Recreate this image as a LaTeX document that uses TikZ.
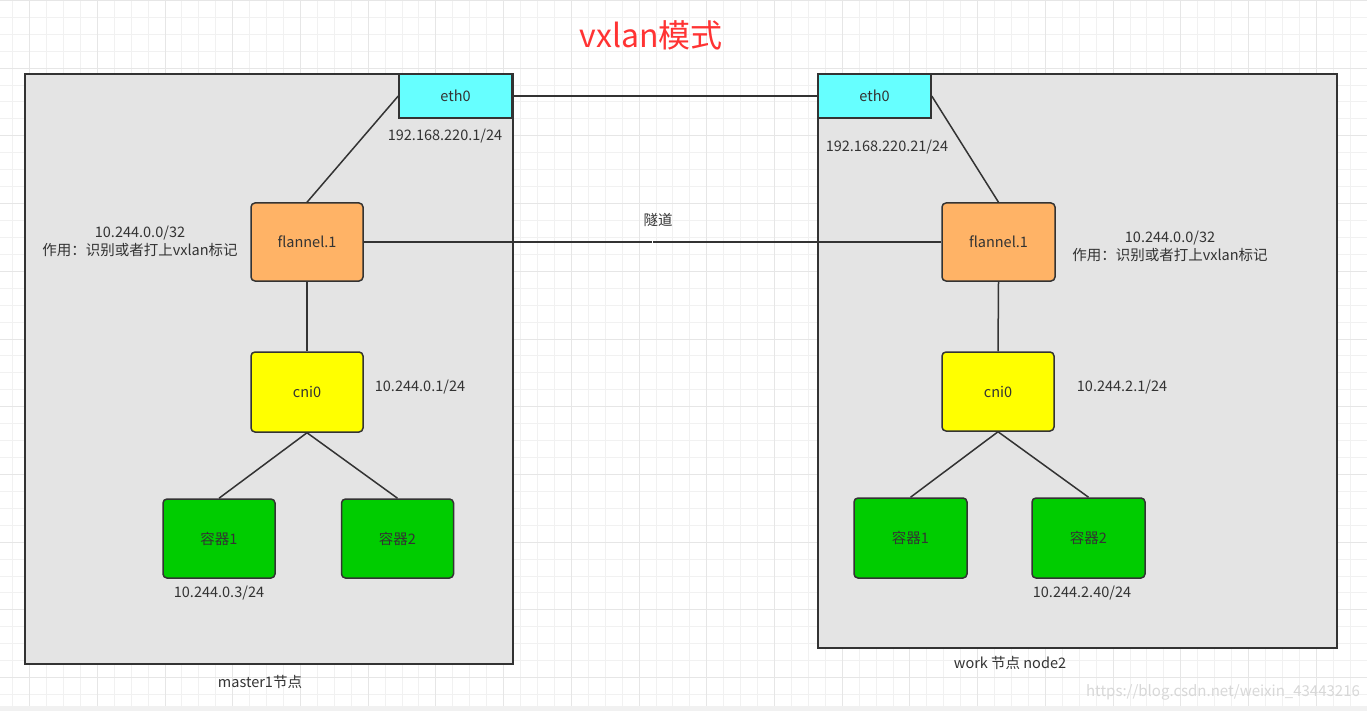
\documentclass[tikz,border=0pt]{standalone}
\usepackage{fontspec}
\usetikzlibrary{calc}
\newfontfamily\cjk{Noto Sans CJK SC}
\definecolor{gridminor}{HTML}{F1F1F1}
\definecolor{gridmajor}{HTML}{E6E6E6}
\definecolor{boxfill}{HTML}{E4E4E4}
\definecolor{strokec}{HTML}{333333}
\definecolor{ethc}{HTML}{66FFFF}
\definecolor{flanc}{HTML}{FFB366}
\definecolor{cnic}{HTML}{FFFF00}
\definecolor{conc}{HTML}{00CC00}
\definecolor{titlec}{HTML}{FF3333}
\definecolor{txtc}{HTML}{333333}
\definecolor{wmc}{HTML}{D8D8D8}
\begin{document}
\begin{tikzpicture}[x=1pt,y=-1pt,
  hostbox/.style={draw=strokec,line width=1.6pt,fill=boxfill,inner sep=0pt},
  dev/.style={draw=strokec,line width=1.5pt,inner sep=0pt,text=txtc,font=\cjk\fontsize{14.5}{17}\selectfont},
  rdev/.style={dev,rounded corners=4pt},
  conn/.style={draw=strokec,line width=1.5pt},
  lbl/.style={text=txtc,font=\cjk\fontsize{14.5}{18}\selectfont,inner sep=0pt,align=center}]
\useasboundingbox (0,0) rectangle (1367,711);
\fill[white] (0,0) rectangle (1367,711);
\foreach \i in {0,...,81} {
  \draw[gridminor,line width=1pt] ({12.67+16.93*\i},0) -- ({12.67+16.93*\i},711);
}
\foreach \i in {0,...,42} {
  \draw[gridminor,line width=1pt] (0,{0.4+16.93*\i}) -- (1367,{0.4+16.93*\i});
}
\foreach \i in {0,...,20} {
  \draw[gridmajor,line width=1pt] ({29.6+67.72*\i},0) -- ({29.6+67.72*\i},711);
}
\foreach \i in {0,...,10} {
  \draw[gridmajor,line width=1pt] (0,{0.4+67.72*\i}) -- (1367,{0.4+67.72*\i});
}
\fill[gridminor] (0,706) rectangle (1367,711);

% title
\node[text=titlec,font=\cjk\fontsize{32}{36}\selectfont,inner sep=0pt] (title) at (651,35) {vxlan模式};

% host boxes
\node[hostbox,minimum width=488pt,minimum height=590pt] (hostL) at (269,369) {};
\node[hostbox,minimum width=519pt,minimum height=574pt] (hostR) at (1077.5,361) {};

% devices left
\node[dev,fill=ethc,minimum width=113pt,minimum height=44pt] (ethL) at (455.5,96) {eth0};
\node[rdev,fill=flanc,minimum width=112pt,minimum height=78pt] (flanL) at (307,242) {flannel.1};
\node[rdev,fill=cnic,minimum width=112pt,minimum height=80pt] (cniL) at (307,392) {cni0};
\node[rdev,fill=conc,minimum width=112pt,minimum height=79pt] (c1L) at (219,538.5) {容器1};
\node[rdev,fill=conc,minimum width=112pt,minimum height=79pt] (c2L) at (397.5,538.5) {容器2};

% devices right
\node[dev,fill=ethc,minimum width=113pt,minimum height=44pt] (ethR) at (874.5,96) {eth0};
\node[rdev,fill=flanc,minimum width=113pt,minimum height=78pt] (flanR) at (998.5,242) {flannel.1};
\node[rdev,fill=cnic,minimum width=112pt,minimum height=79pt] (cniR) at (998,391.5) {cni0};
\node[rdev,fill=conc,minimum width=113pt,minimum height=80pt] (c1R) at (910.5,538) {容器1};
\node[rdev,fill=conc,minimum width=113pt,minimum height=80pt] (c2R) at (1088.5,538) {容器2};

% connectors
\draw[conn] (ethL.east) -- (ethR.west);
\draw[conn] (ethL.west) -- (flanL.north);
\draw[conn] (ethR.east) -- (flanR.north);
\draw[conn] (flanL.south) -- (cniL.north);
\draw[conn] (flanR.south) -- (cniR.north);
\draw[conn] (cniL.south) -- (c1L.north);
\draw[conn] (cniL.south) -- (c2L.north);
\draw[conn] (cniR.south) -- (c1R.north);
\draw[conn] (cniR.south) -- (c2R.north);
\draw[conn] (flanL.east) -- coordinate[pos=0.5] (tunmid) (flanR.west);
\fill[white] ($(tunmid)+(-0.7,-2)$) rectangle ($(tunmid)+(0.7,2)$);
\node[lbl] (tunlbl) at (658,220) {隧道};

% labels
\node[lbl] (ipEthL) at (445,136) {192.168.220.1/24};
\node[lbl] (ipEthR) at (887,147) {192.168.220.21/24};
\node[lbl] (flanTxtL) at (140,241) {10.244.0.0/32\\作用：识别或者打上vxlan标记};
\node[lbl] (flanTxtR) at (1170,246) {10.244.0.0/32\\作用：识别或者打上vxlan标记};
\node[lbl] (ipCniL) at (420,387) {10.244.0.1/24};
\node[lbl] (ipCniR) at (1122,387) {10.244.2.1/24};
\node[lbl] (ipC1L) at (219,593) {10.244.0.3/24};
\node[lbl] (ipC2R) at (1082,593) {10.244.2.40/24};
\node[lbl] (nameL) at (260,682) {master1节点};
\node[lbl] (nameR) at (1010,663) {work 节点 node2};
\node[text=wmc,font=\cjk\fontsize{15}{17}\selectfont,inner sep=0pt] (wm) at (1223,692) {https://blog.csdn.net/weixin\_43443216};
\end{tikzpicture}
\end{document}
